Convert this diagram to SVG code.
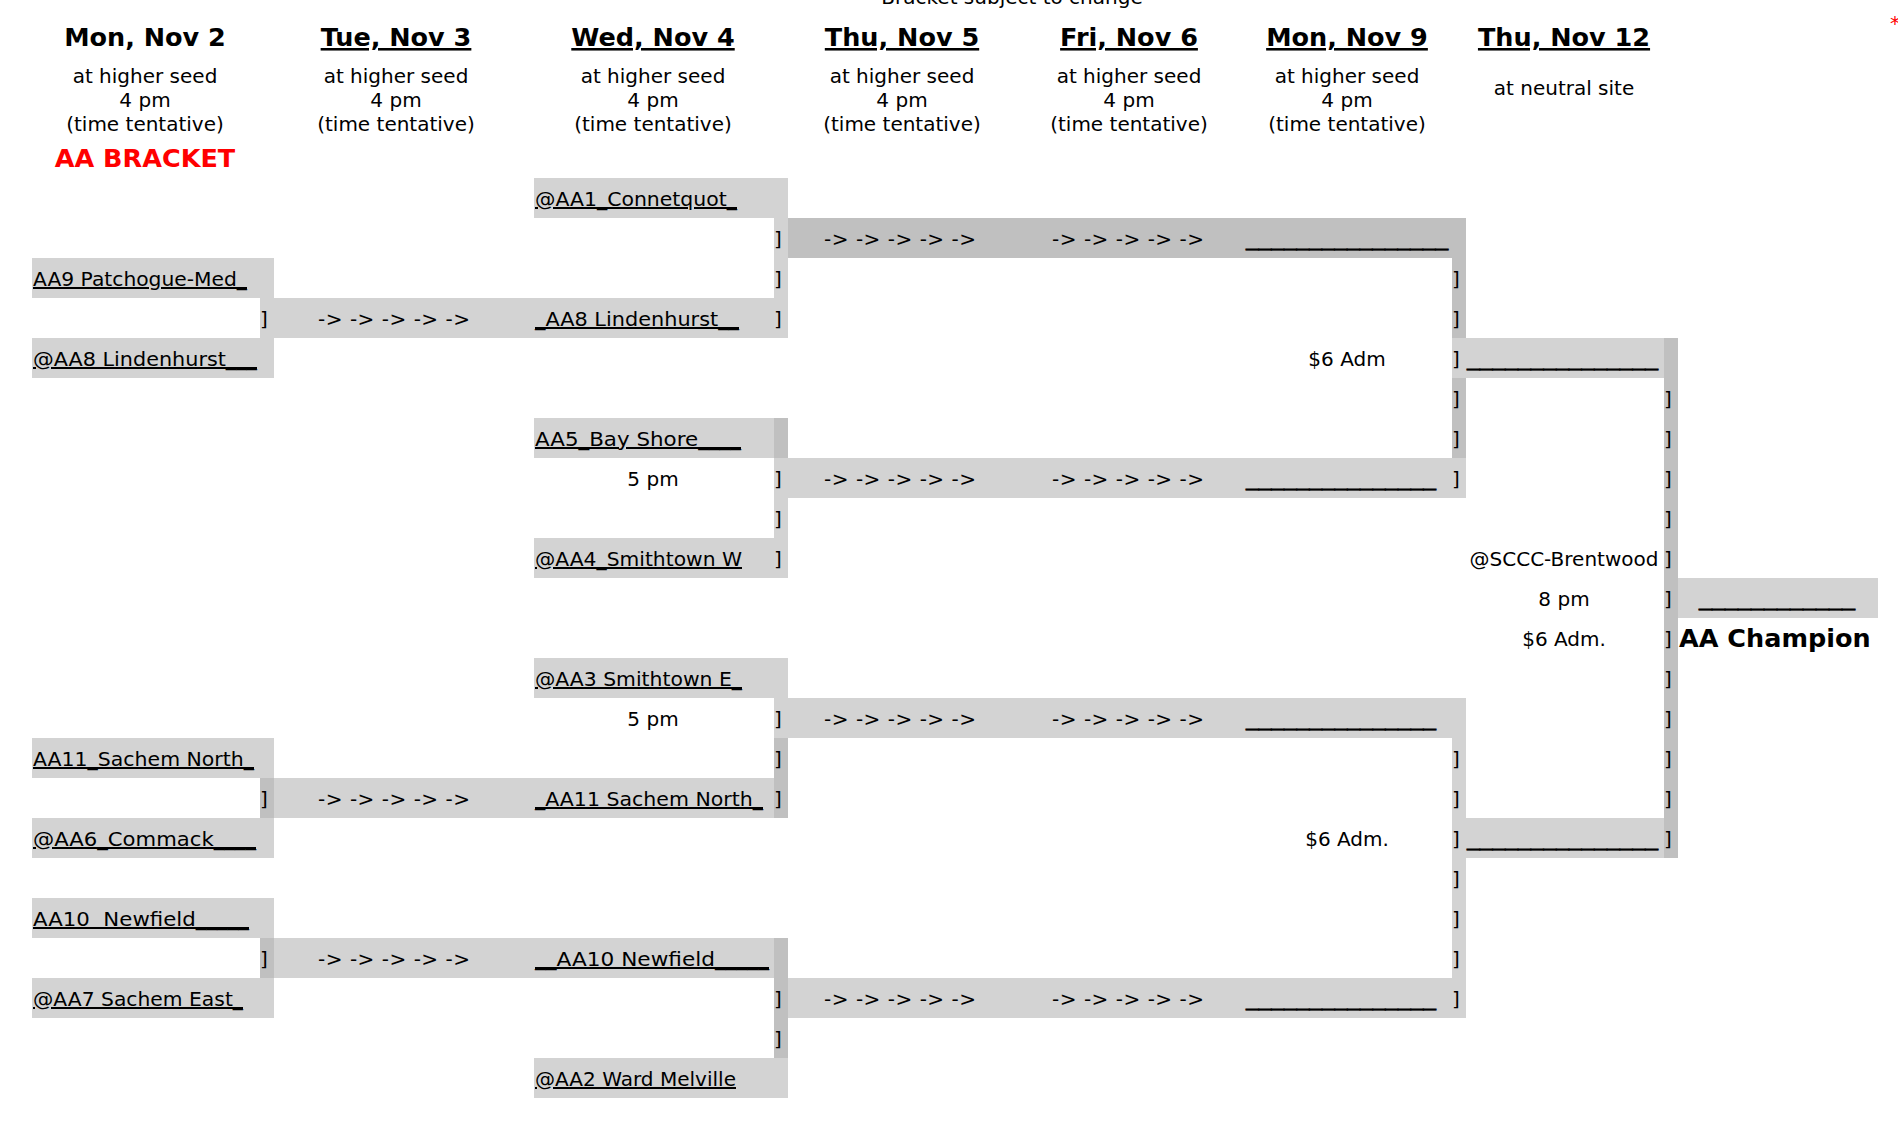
<svg xmlns="http://www.w3.org/2000/svg" width="1898" height="1122" viewBox="0 0 1898 1122">
<style>
text { font-family: "DejaVu Sans", Verdana, sans-serif; font-size: 20px; fill: #000; }
.hd { font-size: 25.5px; font-weight: bold; }
.ul { text-decoration: underline; }
.m { text-anchor: middle; }
.L { fill: #d3d3d3; }
.D { fill: #c0c0c0; }
.red { fill: #ff0000; }
.ln { stroke: #000; stroke-width: 0.6px; }
</style>
<rect width="1898" height="1122" fill="#ffffff"/>

<g id="headers">
  <text x="1012" y="4" class="m">Bracket subject to change</text>
  <text x="1890" y="30" class="red">*</text>
  <text x="145" y="46" class="hd m">Mon, Nov 2</text>
  <text x="396" y="46" class="hd m ul">Tue, Nov 3</text>
  <text x="653" y="46" class="hd m ul">Wed, Nov 4</text>
  <text x="902" y="46" class="hd m ul">Thu, Nov 5</text>
  <text x="1129" y="46" class="hd m ul">Fri, Nov 6</text>
  <text x="1347" y="46" class="hd m ul">Mon, Nov 9</text>
  <text x="1564" y="46" class="hd m ul">Thu, Nov 12</text>
  <g class="m">
    <text x="145" y="83" class="m">at higher seed</text><text x="145" y="107" class="m">4 pm</text><text x="145" y="131" class="m">(time tentative)</text>
    <text x="396" y="83" class="m">at higher seed</text><text x="396" y="107" class="m">4 pm</text><text x="396" y="131" class="m">(time tentative)</text>
    <text x="653" y="83" class="m">at higher seed</text><text x="653" y="107" class="m">4 pm</text><text x="653" y="131" class="m">(time tentative)</text>
    <text x="902" y="83" class="m">at higher seed</text><text x="902" y="107" class="m">4 pm</text><text x="902" y="131" class="m">(time tentative)</text>
    <text x="1129" y="83" class="m">at higher seed</text><text x="1129" y="107" class="m">4 pm</text><text x="1129" y="131" class="m">(time tentative)</text>
    <text x="1347" y="83" class="m">at higher seed</text><text x="1347" y="107" class="m">4 pm</text><text x="1347" y="131" class="m">(time tentative)</text>
    <text x="1564" y="95" class="m">at neutral site</text>
  </g>
  <text x="145" y="167" class="hd m red">AA BRACKET</text>
</g>

<g id="connectors">
  <!-- first round bands -->
  <rect x="260" y="298" width="528" height="40" class="L"/>
  <rect x="260" y="778" width="14" height="40" class="D"/>
  <rect x="274" y="778" width="500" height="40" class="L"/>
  <rect x="260" y="938" width="14" height="40" class="D"/>
  <rect x="274" y="938" width="500" height="40" class="L"/>
  <!-- column D -->
  <rect x="774" y="218" width="14" height="80" class="L"/>
  <rect x="774" y="418" width="14" height="40" class="D"/>
  <rect x="774" y="458" width="14" height="80" class="L"/>
  <rect x="774" y="698" width="14" height="40" class="L"/>
  <rect x="774" y="738" width="14" height="80" class="D"/>
  <rect x="774" y="938" width="14" height="120" class="D"/>
  <!-- quarterfinal bands -->
  <rect x="788" y="218" width="678" height="40" class="D"/>
  <rect x="788" y="458" width="678" height="40" class="L"/>
  <rect x="788" y="698" width="678" height="40" class="L"/>
  <rect x="788" y="978" width="678" height="40" class="L"/>
  <!-- column H -->
  <rect x="1452" y="258" width="14" height="80" class="D"/>
  <rect x="1452" y="338" width="212" height="40" class="L"/>
  <rect x="1452" y="378" width="14" height="80" class="D"/>
  <rect x="1452" y="738" width="14" height="240" class="L"/>
  <rect x="1452" y="818" width="212" height="40" class="L"/>
  <!-- column J -->
  <rect x="1664" y="338" width="14" height="520" class="D"/>

  <!-- brackets col a' -->
  <text x="260" y="326">]</text><text x="260" y="366">]</text>
  <text x="260" y="806">]</text><text x="260" y="846">]</text>
  <text x="260" y="966">]</text><text x="260" y="1006">]</text>
  <!-- brackets col D -->
  <text x="774" y="246">]</text><text x="774" y="286">]</text><text x="774" y="326">]</text>
  <text x="774" y="486">]</text><text x="774" y="526">]</text><text x="774" y="566">]</text>
  <text x="774" y="726">]</text><text x="774" y="766">]</text><text x="774" y="806">]</text>
  <text x="774" y="1006">]</text><text x="774" y="1046">]</text><text x="774" y="1086">]</text>
  <!-- brackets col H -->
  <text x="1452" y="286">]</text><text x="1452" y="326">]</text><text x="1452" y="366">]</text>
  <text x="1452" y="406">]</text><text x="1452" y="446">]</text><text x="1452" y="486">]</text>
  <text x="1452" y="766">]</text><text x="1452" y="806">]</text><text x="1452" y="846">]</text>
  <text x="1452" y="886">]</text><text x="1452" y="926">]</text><text x="1452" y="966">]</text>
  <text x="1452" y="1006">]</text>
  <!-- brackets col J -->
  <text x="1664" y="406">]</text><text x="1664" y="446">]</text><text x="1664" y="486">]</text>
  <text x="1664" y="526">]</text><text x="1664" y="566">]</text><text x="1664" y="606">]</text>
  <text x="1664" y="646">]</text><text x="1664" y="686">]</text><text x="1664" y="726">]</text>
  <text x="1664" y="766">]</text><text x="1664" y="806">]</text><text x="1664" y="846">]</text>

  <!-- arrows -->
  <text x="318" y="326" textLength="152" lengthAdjust="spacing">-&gt; -&gt; -&gt; -&gt; -&gt;</text>
  <text x="318" y="806" textLength="152" lengthAdjust="spacing">-&gt; -&gt; -&gt; -&gt; -&gt;</text>
  <text x="318" y="966" textLength="152" lengthAdjust="spacing">-&gt; -&gt; -&gt; -&gt; -&gt;</text>
  <text x="824" y="246" textLength="152" lengthAdjust="spacing">-&gt; -&gt; -&gt; -&gt; -&gt;</text>
  <text x="1052" y="246" textLength="152" lengthAdjust="spacing">-&gt; -&gt; -&gt; -&gt; -&gt;</text>
  <text x="824" y="486" textLength="152" lengthAdjust="spacing">-&gt; -&gt; -&gt; -&gt; -&gt;</text>
  <text x="1052" y="486" textLength="152" lengthAdjust="spacing">-&gt; -&gt; -&gt; -&gt; -&gt;</text>
  <text x="824" y="726" textLength="152" lengthAdjust="spacing">-&gt; -&gt; -&gt; -&gt; -&gt;</text>
  <text x="1052" y="726" textLength="152" lengthAdjust="spacing">-&gt; -&gt; -&gt; -&gt; -&gt;</text>
  <text x="824" y="1006" textLength="152" lengthAdjust="spacing">-&gt; -&gt; -&gt; -&gt; -&gt;</text>
  <text x="1052" y="1006" textLength="152" lengthAdjust="spacing">-&gt; -&gt; -&gt; -&gt; -&gt;</text>
</g>

<g id="team-aa9">
  <rect x="32" y="258" width="242" height="40" class="L"/>
  <text x="33" y="286" class="ul" textLength="214" lengthAdjust="spacingAndGlyphs">AA9 Patchogue-Med_</text>
</g>
<g id="team-aa8">
  <rect x="32" y="338" width="242" height="40" class="L"/>
  <text x="33" y="366" class="ul" textLength="224" lengthAdjust="spacingAndGlyphs">@AA8 Lindenhurst___</text>
</g>
<g id="team-aa11">
  <rect x="32" y="738" width="242" height="40" class="L"/>
  <text x="33" y="766" class="ul" textLength="221" lengthAdjust="spacingAndGlyphs">AA11_Sachem North_</text>
</g>
<g id="team-aa6">
  <rect x="32" y="818" width="242" height="40" class="L"/>
  <text x="33" y="846" class="ul" textLength="223" lengthAdjust="spacingAndGlyphs">@AA6_Commack____</text>
</g>
<g id="team-aa10">
  <rect x="32" y="898" width="242" height="40" class="L"/>
  <text x="33" y="926" class="ul" textLength="216" lengthAdjust="spacingAndGlyphs" xml:space="preserve">AA10  Newfield_____</text>
</g>
<g id="team-aa7">
  <rect x="32" y="978" width="242" height="40" class="L"/>
  <text x="33" y="1006" class="ul" textLength="210" lengthAdjust="spacingAndGlyphs">@AA7 Sachem East_</text>
</g>

<g id="team-aa1">
  <rect x="534" y="178" width="254" height="40" class="L"/>
  <text x="535" y="206" class="ul" textLength="202" lengthAdjust="spacingAndGlyphs">@AA1_Connetquot_</text>
</g>
<g id="winner-aa8">
  <text x="535" y="326" class="ul" textLength="204" lengthAdjust="spacingAndGlyphs">_AA8 Lindenhurst__</text>
</g>
<g id="team-aa5">
  <rect x="534" y="418" width="240" height="40" class="L"/>
  <text x="535" y="446" class="ul" textLength="206" lengthAdjust="spacingAndGlyphs">AA5_Bay Shore____</text>
  <text x="653" y="486" class="m">5 pm</text>
</g>
<g id="team-aa4">
  <rect x="534" y="538" width="254" height="40" class="L"/>
  <text x="535" y="566" class="ul" textLength="207" lengthAdjust="spacingAndGlyphs">@AA4_Smithtown W</text>
  <text x="774" y="566">]</text>
</g>
<g id="team-aa3">
  <rect x="534" y="658" width="254" height="40" class="L"/>
  <text x="535" y="686" class="ul" textLength="207" lengthAdjust="spacingAndGlyphs">@AA3 Smithtown E_</text>
  <text x="653" y="726" class="m">5 pm</text>
</g>
<g id="winner-aa11">
  <text x="535" y="806" class="ul" textLength="228" lengthAdjust="spacingAndGlyphs">_AA11 Sachem North_</text>
</g>
<g id="winner-aa10">
  <text x="535" y="966" class="ul" textLength="234" lengthAdjust="spacingAndGlyphs">__AA10 Newfield_____</text>
</g>
<g id="team-aa2">
  <rect x="534" y="1058" width="254" height="40" class="L"/>
  <text x="535" y="1086" class="ul" textLength="201" lengthAdjust="spacingAndGlyphs">@AA2 Ward Melville</text>
</g>

<g id="semifinal-slots">
  <text x="1246" y="246" textLength="202" lengthAdjust="spacingAndGlyphs" class="ln">________________</text>
  <text x="1246" y="486" textLength="190" lengthAdjust="spacingAndGlyphs" class="ln">_______________</text>
  <text x="1246" y="726" textLength="190" lengthAdjust="spacingAndGlyphs" class="ln">_______________</text>
  <text x="1246" y="1006" textLength="190" lengthAdjust="spacingAndGlyphs" class="ln">_______________</text>
  <text x="1347" y="366" class="m">$6 Adm</text>
  <text x="1347" y="846" class="m">$6 Adm.</text>
</g>

<g id="final-slots">
  <text x="1467" y="366" textLength="191" lengthAdjust="spacingAndGlyphs" class="ln">_______________</text>
  <text x="1467" y="846" textLength="191" lengthAdjust="spacingAndGlyphs" class="ln">_______________</text>
  <text x="1564" y="566" class="m">@SCCC-Brentwood</text>
  <text x="1564" y="606" class="m">8 pm</text>
  <text x="1564" y="646" class="m">$6 Adm.</text>
</g>

<g id="champion">
  <rect x="1678" y="578" width="200" height="40" class="L"/>
  <text x="1699" y="606" textLength="156" lengthAdjust="spacingAndGlyphs" class="ln">____________</text>
  <text x="1679" y="647" class="hd">AA Champion</text>
</g>
</svg>
